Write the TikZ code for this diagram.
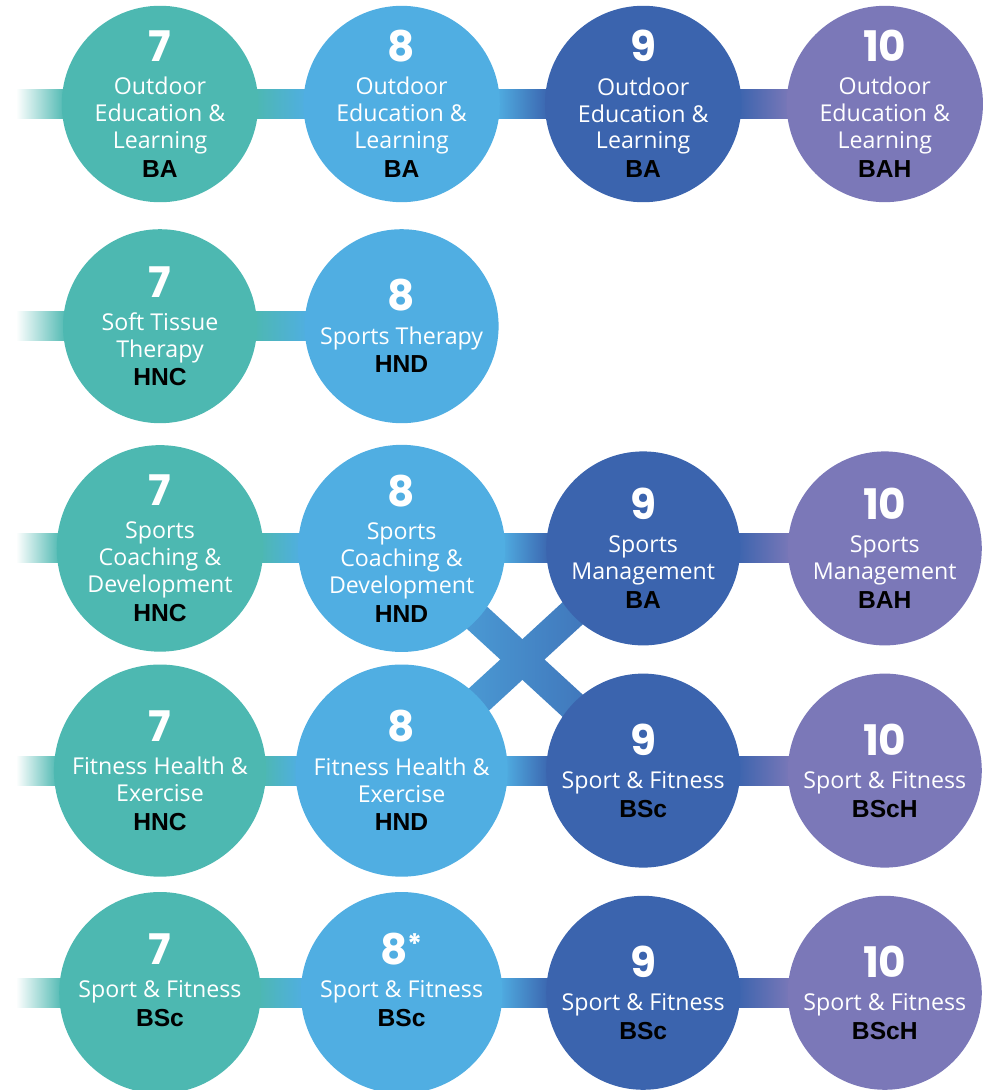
\documentclass[tikz,border=0pt]{standalone}
\usepackage{fontspec}
\newfontfamily\numfam{Poppins}
\newfontfamily\txtfam{Open Sans}
\newfontfamily\awdfam{Liberation Sans}
\usetikzlibrary{calc, backgrounds}
\definecolor{lvlteal}{HTML}{4DB8B1}
\definecolor{lvlsky}{HTML}{50AEE2}
\definecolor{lvlblue}{HTML}{3B64AE}
\definecolor{lvlviolet}{HTML}{7B78B8}

\newcommand{\lvnum}[1]{{\numfam\bfseries\fontsize{30}{30}\selectfont #1}\\[4.4pt]}
\newcommand{\award}[1]{\\[1.2pt]{\awdfam\bfseries\fontsize{17.5}{17.5}\selectfont\color{black}#1}}
\newcommand{\starred}{\raisebox{7pt}{\fontsize{20}{20}\selectfont *}}

\begin{document}
\begin{tikzpicture}[
  lvl/.style={circle, fill=#1, minimum size=48.5mm, inner sep=0pt,
    align=center, text=white, font=\txtfam\fontsize{16.5}{19.2}\selectfont},
]

\useasboundingbox (0,0) rectangle (24.55,-27.25);

% === Row 1: Outdoor Education & Learning ===
\node[lvl=lvlteal]   (o7)  at (4.00,-2.600)  {\lvnum{7}Outdoor\\Education \&\\Learning\award{BA}};
\node[lvl=lvlsky]    (o8)  at (10.04,-2.600) {\lvnum{8}Outdoor\\Education \&\\Learning\award{BA}};
\node[lvl=lvlblue]   (o9)  at (16.08,-2.600) {\lvnum{9}Outdoor\\Education \&\\Learning\award{BA}};
\node[lvl=lvlviolet] (o10) at (22.12,-2.600) {\lvnum{10}Outdoor\\Education \&\\Learning\award{BAH}};

% === Row 2: Therapy ===
\node[lvl=lvlteal]   (t7)  at (4.00,-8.155)  {\lvnum{7}Soft Tissue\\Therapy\award{HNC}};
\node[lvl=lvlsky]    (t8)  at (10.04,-8.155) {\lvnum{8}Sports Therapy\award{HND}};

% === Row 3: Coaching -> Management ===
\node[lvl=lvlteal]   (c7)  at (4.00,-13.71)  {\lvnum{7}Sports\\Coaching \&\\Development\award{HNC}};
\node[lvl=lvlsky]    (c8)  at (10.04,-13.71) {\lvnum{8}Sports\\Coaching \&\\Development\award{HND}};
\node[lvl=lvlblue]   (m9)  at (16.08,-13.71) {\lvnum{9}Sports\\Management\award{BA}};
\node[lvl=lvlviolet] (m10) at (22.12,-13.71) {\lvnum{10}Sports\\Management\award{BAH}};

% === Row 4: Fitness Health -> Sport & Fitness ===
\node[lvl=lvlteal]   (f7)  at (4.00,-19.265)  {\lvnum{7}Fitness Health \&\\Exercise\award{HNC}};
\node[lvl=lvlsky]    (f8)  at (10.04,-19.265) {\lvnum{8}Fitness Health \&\\Exercise\award{HND}};
\node[lvl=lvlblue]   (s9)  at (16.08,-19.265) {\lvnum{9}Sport \& Fitness\award{BSc}};
\node[lvl=lvlviolet] (s10) at (22.12,-19.265) {\lvnum{10}Sport \& Fitness\award{BScH}};

% === Row 5: Sport & Fitness ===
\node[lvl=lvlteal, text depth=6.5mm] (b7) at (4.00,-24.82)  {\lvnum{7}Sport \& Fitness\award{BSc}};
\node[lvl=lvlsky, text depth=6.5mm]  (b8) at (10.04,-24.82) {\lvnum{8\starred}Sport \& Fitness\award{BSc}};
\node[lvl=lvlblue]   (b9)  at (16.08,-24.82) {\lvnum{9}Sport \& Fitness\award{BSc}};
\node[lvl=lvlviolet] (b10) at (22.12,-24.82) {\lvnum{10}Sport \& Fitness\award{BScH}};

% free ends of the lead-in bars
\coordinate (in1) at (0.4,-2.600);
\coordinate (in2) at (0.4,-8.155);
\coordinate (in3) at (0.4,-13.71);
\coordinate (in4) at (0.4,-19.265);
\coordinate (in5) at (0.4,-24.82);

% ============================================================
% Bars behind the circles
% ============================================================
\begin{scope}[on background layer]
  \foreach \a/\b in {in1/o7, in2/t7, in3/c7, in4/f7, in5/b7}
    \shade[left color=white, right color=lvlteal]
      ([yshift=-3.625mm]\a) rectangle ([shift={(1mm,3.625mm)}]\b.west);

  \foreach \a/\b/\ca/\cb in {o7/o8/lvlteal/lvlsky, o8/o9/lvlsky/lvlblue, o9/o10/lvlblue/lvlviolet,
      t7/t8/lvlteal/lvlsky,
      c7/c8/lvlteal/lvlsky, c8/m9/lvlsky/lvlblue, m9/m10/lvlblue/lvlviolet,
      f7/f8/lvlteal/lvlsky, f8/s9/lvlsky/lvlblue, s9/s10/lvlblue/lvlviolet,
      b7/b8/lvlteal/lvlsky, b8/b9/lvlsky/lvlblue, b9/b10/lvlblue/lvlviolet}
    \shade[left color=\ca, right color=\cb]
      ([shift={(-1mm,-3.625mm)}]\a.east) rectangle ([shift={(1mm,3.625mm)}]\b.west);

  % crossing routes between rows 3 and 4
  \foreach \a/\b in {c8/s9, f8/m9}
    \shade[left color=lvlsky, right color=lvlblue]
      ($(\a.center)!3.75mm!90:(\b.center)$) -- ($(\b.center)!3.75mm!-90:(\a.center)$)
      -- ($(\b.center)!3.75mm!90:(\a.center)$) -- ($(\a.center)!3.75mm!-90:(\b.center)$) -- cycle;
\end{scope}

\end{tikzpicture}
\end{document}
